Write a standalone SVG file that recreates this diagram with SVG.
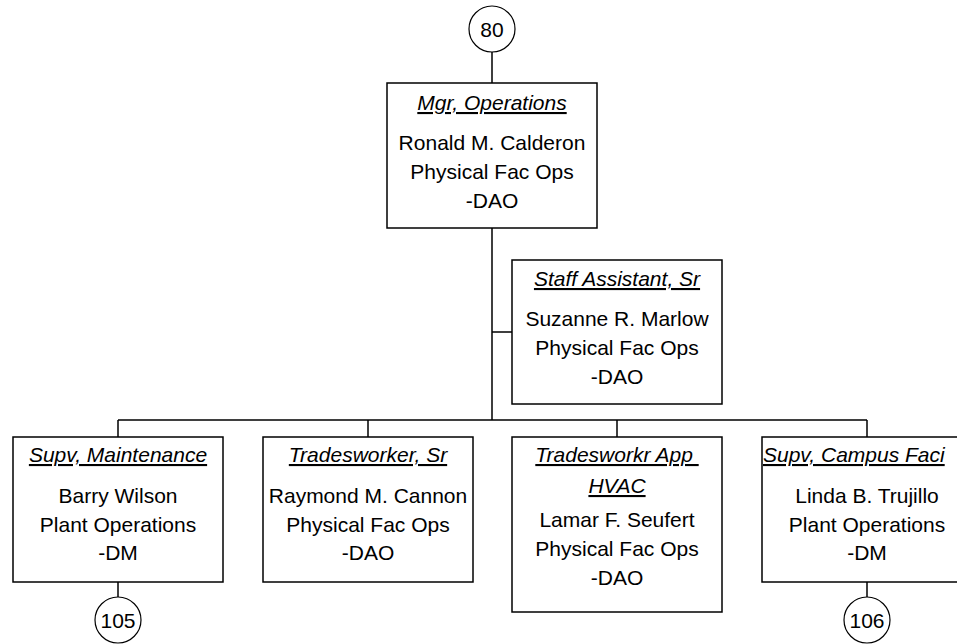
<svg xmlns="http://www.w3.org/2000/svg" width="957" height="644" viewBox="0 0 957 644">
<style>
.box{fill:#fff;stroke:#000;stroke-width:1.5}
.circ{fill:#fff;stroke:#000;stroke-width:1.2}
.ln{fill:none;stroke:#000;stroke-width:1.5}
text{font-family:"Liberation Sans",Arial,sans-serif;font-size:21px;fill:#000;text-anchor:middle}
.t{font-style:italic;text-decoration:underline;white-space:pre}
</style>
<rect width="957" height="644" fill="#fff"/>
<g id="connectors">
<path class="ln" d="M492 52V83M492 228V420M492 332H512M118 420H867M118 420V437M368 420V437M617 420V437M867 420V437M118 582V597M867 582V597"/>
</g>
<g id="ref80"><circle class="circ" cx="492" cy="29" r="23"/><text x="492" y="36.5">80</text></g>
<g id="mgr-operations">
<rect class="box" x="387" y="83" width="210" height="145"/>
<text class="t" x="492" y="110">Mgr, Operations</text>
<text x="492" y="150">Ronald M. Calderon</text>
<text x="492" y="179">Physical Fac Ops</text>
<text x="492" y="208">-DAO</text>
</g>
<g id="staff-assistant">
<rect class="box" x="512" y="260" width="210" height="144"/>
<text class="t" x="617" y="286">Staff Assistant, Sr</text>
<text x="617" y="326">Suzanne R. Marlow</text>
<text x="617" y="355">Physical Fac Ops</text>
<text x="617" y="384">-DAO</text>
</g>
<g id="supv-maintenance">
<rect class="box" x="13" y="437" width="210" height="145"/>
<text class="t" x="118" y="462">Supv, Maintenance</text>
<text x="118" y="503">Barry Wilson</text>
<text x="118" y="532">Plant Operations</text>
<text x="118" y="560">-DM</text>
</g>
<g id="tradesworker-sr">
<rect class="box" x="263" y="437" width="210" height="145"/>
<text class="t" x="368" y="462">Tradesworker, Sr</text>
<text x="368" y="503">Raymond M. Cannon</text>
<text x="368" y="532">Physical Fac Ops</text>
<text x="368" y="560">-DAO</text>
</g>
<g id="tradesworkr-app">
<rect class="box" x="512" y="437" width="210" height="175"/>
<text class="t" x="617" y="462">Tradesworkr App </text>
<text class="t" x="617" y="493">HVAC</text>
<text x="617" y="527">Lamar F. Seufert</text>
<text x="617" y="556">Physical Fac Ops</text>
<text x="617" y="585">-DAO</text>
</g>
<g id="supv-campus">
<rect class="box" x="762" y="437" width="210" height="145"/>
<text class="t" x="763" y="462" style="text-anchor:start">Supv, Campus Faci</text>
<text x="867" y="503">Linda B. Trujillo</text>
<text x="867" y="532">Plant Operations</text>
<text x="867" y="560">-DM</text>
</g>
<g id="ref105"><circle class="circ" cx="118" cy="620" r="23"/><text x="118" y="627.5">105</text></g>
<g id="ref106"><circle class="circ" cx="867" cy="620" r="23"/><text x="867" y="627.5">106</text></g>
</svg>
